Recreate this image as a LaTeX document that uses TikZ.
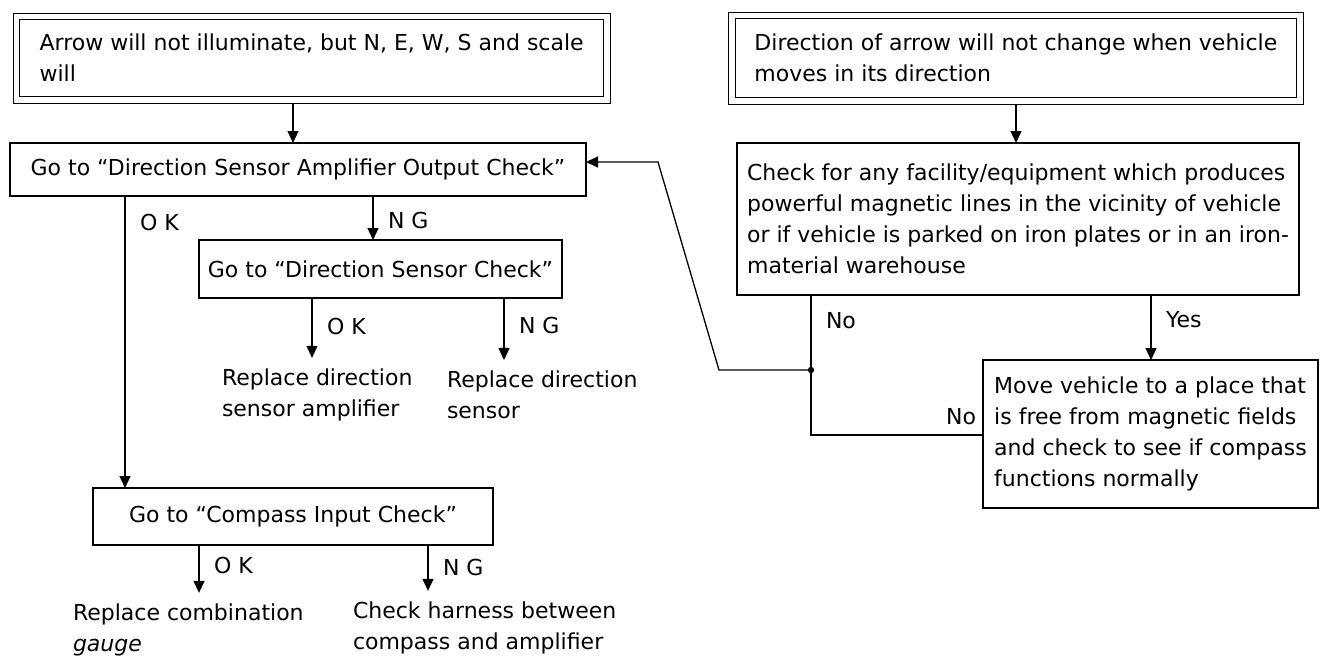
\documentclass[tikz,border=0pt]{standalone}
\usepackage{fontspec}
\setmainfont{DejaVu Sans}
\usepackage{tikz}
\usetikzlibrary{arrows.meta,positioning}

\begin{document}
\begin{tikzpicture}[->, >={Triangle[width=11pt,length=12pt]}, x=1pt, y=-1pt, line width=1.3pt, font=\fontsize{22}{31}\selectfont]
  \tikzstyle{every node}=[inner sep=0pt, outer sep=0pt]
  \tikzstyle{stepbox}=[draw, anchor=north west, align=left]
  \tikzstyle{symptom}=[stepbox, double, double distance=5.5pt, line width=1.1pt, outer sep=3.85pt]
  \tikzstyle{answer}=[right=15pt]
  \tikzstyle{remedy}=[anchor=west, align=left, inner ysep=11pt]

  \useasboundingbox (0,0) rectangle (1323,659);

  % the two complaints
  \node[symptom, minimum width=590.5, minimum height=83.5] (arrowoff) at (12.5,12.5) {Arrow will not illuminate, but N, E, W, S and scale\\will};
  \node[symptom, minimum width=568, minimum height=85.5] (nochange) at (728,11.5) {Direction of arrow will not change when vehicle\\moves in its direction};

  % checks
  \node[stepbox, minimum width=576, minimum height=53] (ampcheck) at (10,143) {Go to “Direction Sensor Amplifier Output Check”};
  \node[stepbox, minimum width=363, minimum height=58] (sensorcheck) at (199,240) {Go to “Direction Sensor Check”};
  \node[stepbox, minimum width=400, minimum height=57] (compasscheck) at (93,488) {Go to “Compass Input Check”};
  \node[stepbox, minimum width=562, minimum height=152] (magnetcheck) at (737,143) {Check for any facility/equipment which produces\\powerful magnetic lines in the vicinity of vehicle\\or if vehicle is parked on iron plates or in an iron-\\material warehouse};
  \node[stepbox, minimum width=335, minimum height=148] (relocate) at (983,360) {Move vehicle to a place that\\is free from magnetic fields\\and check to see if compass\\functions normally};

  % what to replace
  \node[remedy] (repamp) at (222,395) {Replace direction\\sensor amplifier};
  \node[remedy] (repsensor) at (447,395) {Replace direction\\sensor};
  \node[remedy] (repgauge) at (73,630) {Replace combination\\\textit{gauge}};
  \node[remedy] (harness) at (353,628) {Check harness between\\compass and amplifier};

  \draw (arrowoff.south -| 293,0) -- (ampcheck.north -| 293,0);
  \draw (nochange.south -| 1016,0) -- (magnetcheck.north -| 1016,0);

  \draw (ampcheck.south -| 125,0) -- node[answer, pos=0.09] {O K} (compasscheck.north -| 125,0);
  \draw (ampcheck.south -| 373,0) -- node[answer, pos=0.55] {N G} (sensorcheck.north -| 373,0);
  \draw (sensorcheck.south -| 312,0) -- node[answer, pos=0.48] {O K} (repamp.north -| 312,0);
  \draw (sensorcheck.south -| 504,0) -- node[answer, pos=0.45] {N G} (repsensor.north -| 504,0);
  \draw (compasscheck.south -| 199,0) -- node[answer, pos=0.43] {O K} (repgauge.north -| 199,0);
  \draw (compasscheck.south -| 428,0) -- node[answer, pos=0.5] {N G} (harness.north -| 428,0);
  \draw (magnetcheck.south -| 1151,0) -- node[answer, pos=0.38] {Yes} (relocate.north -| 1151,0);

  % both "No" branches meet and go back
  \coordinate (junction) at (811,370);
  \coordinate (corner) at (811,435);
  \draw[-] (magnetcheck.south -| junction) -- node[answer, pos=0.18] {No} (corner)
    -- node[pos=1, above left=10pt and 7pt] {No} (relocate.west |- corner);
  \draw (junction) -- (719,370) -- (658,162) -- (ampcheck.east |- 0,162);
  \fill (junction) circle (3.2);

\end{tikzpicture}
\end{document}
